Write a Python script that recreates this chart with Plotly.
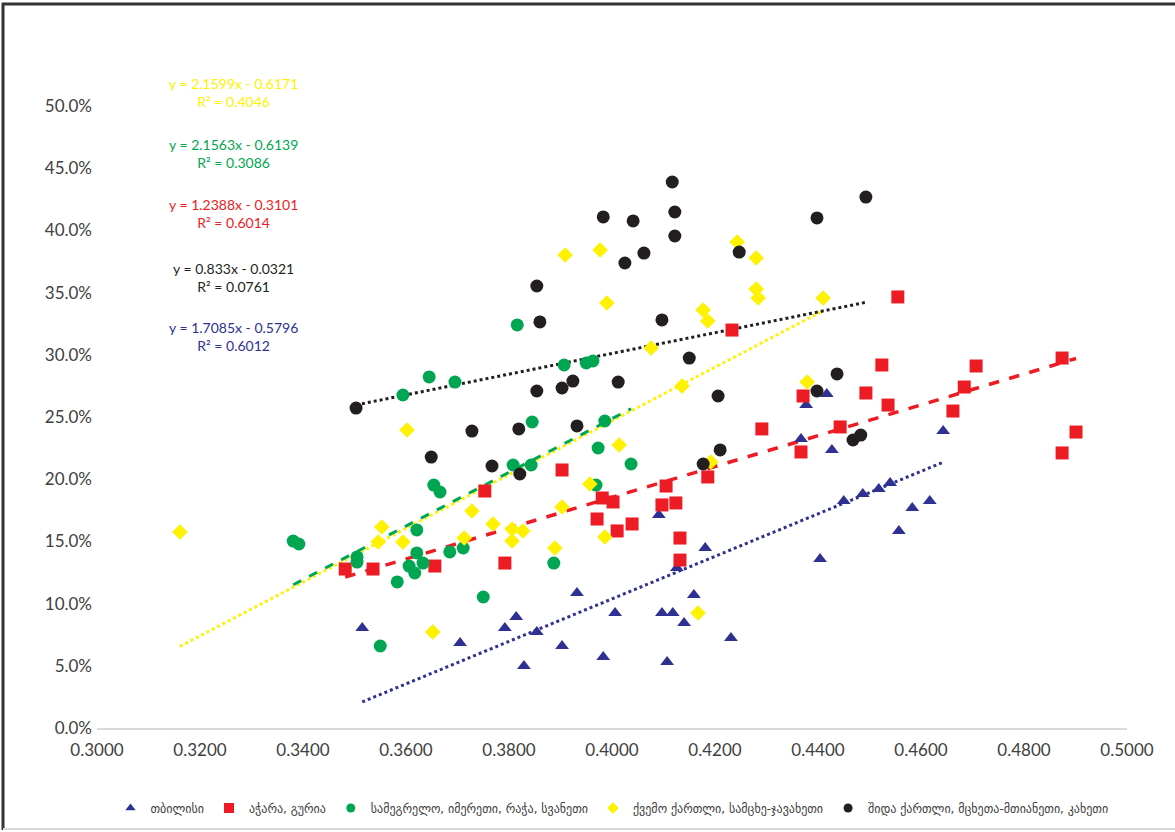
import plotly.graph_objects as go

# ---------------- data ----------------
series_names = [
    "თბილისი",
    "აჭარა, გურია",
    "სამეგრელო, იმერეთი, რაჭა, სვანეთი",
    "ქვემო ქართლი, სამცხე-ჯავახეთი",
    "შიდა ქართლი, მცხეთა-მთიანეთი, კახეთი",
]

tbilisi_x = [0.3515, 0.3705, 0.3792, 0.3814, 0.3829, 0.3854, 0.3903, 0.3932, 0.3983, 0.4006,
             0.4097, 0.4107, 0.4118, 0.4140, 0.4159, 0.4181, 0.4231, 0.4091, 0.4126, 0.4367,
             0.4377, 0.4404, 0.4417, 0.4427, 0.4450, 0.4487, 0.4518, 0.4540, 0.4557, 0.4583,
             0.4617, 0.4643]
tbilisi_y = [0.0804, 0.0683, 0.0804, 0.0892, 0.0498, 0.0772, 0.0659, 0.1085, 0.0571, 0.0924,
             0.0924, 0.0531, 0.0924, 0.0844, 0.1069, 0.1447, 0.0723, 0.1712, 0.1286, 0.2323,
             0.2596, 0.1359, 0.2685, 0.2235, 0.1825, 0.1881, 0.1921, 0.1969, 0.1584, 0.1768,
             0.1825, 0.2387]

adjara_x = [0.3482, 0.3536, 0.3656, 0.3753, 0.3792, 0.3903, 0.3981, 0.4002, 0.3971, 0.4010,
            0.4039, 0.4097, 0.4105, 0.4124, 0.4132, 0.4132, 0.4186, 0.4233, 0.4291, 0.4367,
            0.4371, 0.4443, 0.4493, 0.4524, 0.4536, 0.4555, 0.4662, 0.4684, 0.4707, 0.4874,
            0.4874, 0.4901]
adjara_y = [0.1278, 0.1278, 0.1302, 0.1905, 0.1326, 0.2074, 0.1849, 0.1817, 0.1680, 0.1584,
            0.1640, 0.1793, 0.1945, 0.1809, 0.1527, 0.1350, 0.2018, 0.3199, 0.2404, 0.2219,
            0.2669, 0.2420, 0.2693, 0.2918, 0.2596, 0.3465, 0.2548, 0.2741, 0.2910, 0.2974,
            0.2211, 0.2379]

samegrelo_x = [0.3381, 0.3392, 0.3505, 0.3505, 0.3550, 0.3583, 0.3594, 0.3606, 0.3617, 0.3621,
               0.3621, 0.3633, 0.3645, 0.3654, 0.3666, 0.3685, 0.3695, 0.3711, 0.3750, 0.3808,
               0.3816, 0.3843, 0.3845, 0.3887, 0.3907, 0.3950, 0.3963, 0.3969, 0.3973, 0.3986,
               0.4037]
samegrelo_y = [0.1503, 0.1479, 0.1375, 0.1334, 0.0659, 0.1174, 0.2677, 0.1302, 0.1246, 0.1592,
               0.1407, 0.1326, 0.2822, 0.1953, 0.1897, 0.1415, 0.2781, 0.1447, 0.1053, 0.2114,
               0.3240, 0.2114, 0.2460, 0.1326, 0.2918, 0.2934, 0.2950, 0.1953, 0.2251, 0.2468,
               0.2122]

kvemo_x = [0.3161, 0.3546, 0.3553, 0.3594, 0.3602, 0.3652, 0.3713, 0.3728, 0.3769, 0.3806,
           0.3806, 0.3827, 0.3889, 0.3903, 0.3909, 0.3957, 0.3977, 0.3986, 0.3990, 0.4014,
           0.4076, 0.4136, 0.4167, 0.4177, 0.4186, 0.4192, 0.4243, 0.4280, 0.4280, 0.4284,
           0.4379, 0.4410]
kvemo_y = [0.1576, 0.1495, 0.1616, 0.1495, 0.2395, 0.0772, 0.1527, 0.1744, 0.1640, 0.1600,
           0.1503, 0.1584, 0.1447, 0.1777, 0.3802, 0.1961, 0.3842, 0.1535, 0.3416, 0.2275,
           0.3055, 0.2749, 0.0924, 0.3360, 0.3272, 0.2138, 0.3907, 0.3778, 0.3529, 0.3457,
           0.2781, 0.3457]

shida_x = [0.3503, 0.3649, 0.3728, 0.3767, 0.3819, 0.3821, 0.3854, 0.3854, 0.3860, 0.3903,
           0.3924, 0.3932, 0.3983, 0.4012, 0.4025, 0.4041, 0.4062, 0.4097, 0.4117, 0.4122,
           0.4122, 0.4150, 0.4177, 0.4206, 0.4210, 0.4247, 0.4398, 0.4398, 0.4437, 0.4468,
           0.4483, 0.4493]
shida_y = [0.2572, 0.2178, 0.2387, 0.2106, 0.2404, 0.2042, 0.3553, 0.2709, 0.3264, 0.2733,
           0.2789, 0.2428, 0.4108, 0.2781, 0.3738, 0.4076, 0.3818, 0.3280, 0.4389, 0.4148,
           0.3955, 0.2974, 0.2122, 0.2669, 0.2235, 0.3826, 0.4100, 0.2709, 0.2846, 0.2315,
           0.2355, 0.4268]

# trendline coefficients (slope, intercept) and R² as printed on the chart
trend_slope = [1.7085, 1.2388, 2.1563, 2.1599, 0.833]
trend_intercept = [-0.5796, -0.3101, -0.6139, -0.6171, -0.0321]
trend_r2 = ["0.6012", "0.6014", "0.3086", "0.4046", "0.0761"]
trend_label_slope = ["1.7085", "1.2388", "2.1563", "2.1599", "0.833"]
trend_label_int = ["0.5796", "0.3101", "0.6139", "0.6171", "0.0321"]

# ---------------- style ----------------
colors = ["#2E3192", "#ED1C24", "#00A651", "#FFF200", "#231F20"]
symbols = ["triangle-up", "square", "circle", "diamond", "circle"]
msizes = [12, 13, 13, 12, 13]
legend_msizes = [9, 10, 9, 9, 9]
trend_dash = ["dot", "dash", "dash", "dot", "dot"]
trend_width = [3, 3.5, 3, 3, 3]

xs = [tbilisi_x, adjara_x, samegrelo_x, kvemo_x, shida_x]
ys = [tbilisi_y, adjara_y, samegrelo_y, kvemo_y, shida_y]

W, H = 1175, 832
ML, MR, MT, MB = 97, 48, 106, 104
PW, PH = W - ML - MR, H - MT - MB


def px_x(px):
    return (px - ML) / PW


def px_y(py):
    return (H - MB - py) / PH


fig = go.Figure()

# trendlines (under markers)
for i in [1, 0, 3, 2, 4]:
    x0, x1 = min(xs[i]), max(xs[i])
    fig.add_trace(go.Scatter(
        x=[x0, x1],
        y=[trend_slope[i] * x0 + trend_intercept[i], trend_slope[i] * x1 + trend_intercept[i]],
        mode="lines",
        line=dict(color=colors[i], width=trend_width[i], dash=trend_dash[i]),
        showlegend=False, hoverinfo="skip",
    ))

for i in range(5):
    fig.add_trace(go.Scatter(
        x=xs[i], y=ys[i], mode="markers", name=series_names[i], showlegend=False,
        marker=dict(symbol=symbols[i], size=msizes[i], color=colors[i], line=dict(width=0)),
    ))

# legend entries with small markers (as in the reference legend)
for i in range(5):
    fig.add_trace(go.Scatter(
        x=[None], y=[None], mode="markers", name=series_names[i], showlegend=True,
        marker=dict(symbol=symbols[i], size=legend_msizes[i], color=colors[i], line=dict(width=0)),
    ))

# equation annotations (yellow, green, red, black, blue)
ann_order = [3, 2, 1, 4, 0]
ann_px_y = [83, 144, 204, 268, 327]
for k, i in enumerate(ann_order):
    fig.add_annotation(
        xref="paper", yref="paper", x=px_x(233), y=px_y(ann_px_y[k] - 10),
        text=f"y = {trend_label_slope[i]}x - {trend_label_int[i]}<br>R² = {trend_r2[i]}",
        showarrow=False, align="center", xanchor="center", yanchor="top",
        font=dict(family="Lato, Open Sans, sans-serif", size=14, color=colors[i]),
    )

# outer frame
fig.add_shape(type="line", xref="paper", yref="paper",
              x0=px_x(2), x1=px_x(1175), y0=px_y(4), y1=px_y(4),
              line=dict(color="#333333", width=3))
fig.add_shape(type="line", xref="paper", yref="paper",
              x0=px_x(3), x1=px_x(3), y0=px_y(3), y1=px_y(830),
              line=dict(color="#333333", width=3))
fig.add_shape(type="line", xref="paper", yref="paper",
              x0=px_x(3), x1=px_x(1175), y0=px_y(829), y1=px_y(829),
              line=dict(color="#D9D9D9", width=2))

fig.update_layout(
    width=W, height=H,
    margin=dict(l=ML, r=MR, t=MT, b=MB, autoexpand=False),
    paper_bgcolor="white", plot_bgcolor="white",
    font=dict(family="Lato, Open Sans, sans-serif", size=17, color="#404040"),
    xaxis=dict(range=[0.30, 0.50], dtick=0.02, tick0=0.30, tickformat=".4f",
               showgrid=False, zeroline=False, showline=True, linecolor="#D9D9D9",
               linewidth=2, ticks="", ticklabelstandoff=6, automargin=False),
    yaxis=dict(range=[0, 0.5], dtick=0.05, tickformat=".1%", showgrid=False,
               zeroline=False, showline=False, ticks="", ticklabelstandoff=4,
               automargin=False),
    legend=dict(orientation="h", x=0.5, xanchor="center", y=px_y(808), yanchor="middle",
                font=dict(family="DejaVu Sans, sans-serif", size=12, color="#404040"),
                itemwidth=30, tracegroupgap=0, bgcolor="rgba(0,0,0,0)"),
    showlegend=True,
)

fig.write_html(
    "out.html",
    config={"displayModeBar": False},
    post_script="document.body.style.margin='0';document.body.style.overflow='hidden';"
                "document.documentElement.style.overflow='hidden';",
)
